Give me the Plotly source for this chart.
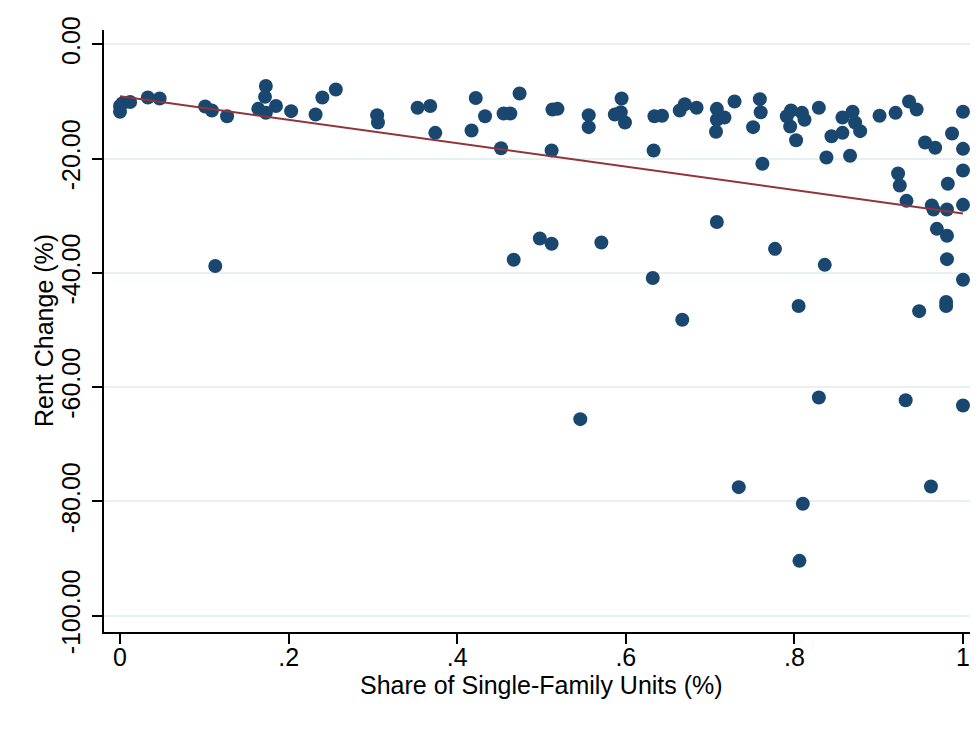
import plotly.graph_objects as go

share_sf = [0.000, 0.000, 0.003, 0.012, 0.033, 0.047, 0.101, 0.109, 0.127, 0.164,
            0.173, 0.172, 0.173, 0.185, 0.203, 0.232, 0.240, 0.256, 0.305, 0.306,
            0.353, 0.368, 0.374, 0.422, 0.417, 0.433, 0.452, 0.455, 0.463, 0.474,
            0.512, 0.513, 0.519, 0.556, 0.556, 0.587, 0.594, 0.595, 0.599, 0.633,
            0.634, 0.643, 0.664, 0.670, 0.684, 0.708, 0.708, 0.717, 0.707, 0.729,
            0.759, 0.760, 0.751, 0.762, 0.708, 0.777, 0.791, 0.796, 0.795, 0.809,
            0.812, 0.802, 0.829, 0.838, 0.844, 0.857, 0.857, 0.869, 0.872, 0.878,
            0.866, 0.901, 0.920, 0.936, 0.945, 1.000, 0.987, 0.955, 0.967, 1.000,
            1.000, 0.982, 0.923, 0.925, 0.933, 0.963, 0.965, 0.981, 1.000, 0.969,
            0.981, 0.981, 1.000, 0.980, 0.980, 0.948, 0.836, 0.805, 0.667, 0.632,
            0.113, 0.467, 0.498, 0.512, 0.571, 0.546, 0.829, 0.932, 1.000, 0.734,
            0.810, 0.962, 0.806]

rent_change = [-10.8, -11.8, -10.3, -10.1, -9.3, -9.5, -10.9, -11.6, -12.6, -11.3,
               -7.3, -9.2, -12.0, -10.8, -11.7, -12.3, -9.3, -7.9, -12.4, -13.7,
               -11.1, -10.8, -15.5, -9.4, -15.1, -12.6, -18.2, -12.1, -12.1, -8.6,
               -18.6, -11.4, -11.3, -12.4, -14.5, -12.3, -11.9, -9.5, -13.7, -18.6,
               -12.6, -12.5, -11.6, -10.5, -11.1, -11.3, -13.2, -12.8, -15.3, -10.0,
               -9.6, -11.9, -14.5, -20.9, -31.1, -35.8, -12.6, -11.6, -14.4, -12.0,
               -13.2, -16.8, -11.1, -19.8, -16.1, -15.5, -12.8, -11.8, -13.7, -15.2,
               -19.5, -12.5, -12.0, -10.0, -11.4, -11.8, -15.6, -17.2, -18.1, -18.3,
               -22.1, -24.4, -22.6, -24.7, -27.4, -28.2, -28.9, -28.9, -28.1, -32.3,
               -33.5, -37.6, -41.2, -45.1, -45.8, -46.7, -38.6, -45.8, -48.2, -40.9,
               -38.8, -37.7, -34.0, -34.9, -34.7, -65.6, -61.8, -62.3, -63.2, -77.5,
               -80.4, -77.4, -90.4]

fit_x = [0.0, 1.0]
fit_y = [-9.1, -29.6]

y_ticks = [0, -20, -40, -60, -80, -100]
y_tick_labels = ["0.00", "-20.00", "-40.00", "-60.00", "-80.00", "-100.00"]
x_ticks = [0, 0.2, 0.4, 0.6, 0.8, 1.0]
x_tick_labels = ["0", ".2", ".4", ".6", ".8", "1"]

FONT = "Arial, Liberation Sans, sans-serif"
FS = 25

fig = go.Figure()
fig.add_trace(go.Scatter(
    x=share_sf, y=rent_change, mode="markers",
    marker=dict(color="#1a476f", size=14, line=dict(width=0)),
    showlegend=False, cliponaxis=False))
fig.add_trace(go.Scatter(
    x=fit_x, y=fit_y, mode="lines",
    line=dict(color="#90353b", width=2),
    showlegend=False))

fig.update_layout(
    width=970, height=713,
    margin=dict(l=96, r=0, t=22, b=89),
    paper_bgcolor="white", plot_bgcolor="white",
    font=dict(family=FONT, size=FS, color="black"),
    xaxis=dict(
        range=[-0.019, 1.0178], tickmode="array", tickvals=x_ticks, ticktext=x_tick_labels,
        ticks="outside", ticklen=10, tickwidth=1.5, tickcolor="black",
        showline=True, linecolor="black", linewidth=1.5,
        showgrid=False, zeroline=False, automargin=False,
        tickfont=dict(size=FS), ticklabelstandoff=-8,
    ),
    yaxis=dict(
        range=[-102.85, 2.5], tickmode="array", tickvals=y_ticks, ticktext=y_tick_labels,
        ticks="outside", ticklen=10, tickwidth=1.5, tickcolor="black", tickangle=-90,
        showline=True, linecolor="black", linewidth=1.5,
        showgrid=True, gridcolor="#e8f0f2", gridwidth=2, zeroline=False, automargin=False,
        tickfont=dict(size=FS), ticklabelstandoff=2,
    ),
    annotations=[
        dict(text="Share of Single-Family Units (%)", xref="paper", yref="paper",
             x=0.5, y=-53 / 602, xanchor="center", yanchor="middle",
             showarrow=False, font=dict(size=FS)),
        dict(text="Rent Change (%)", xref="paper", yref="paper",
             x=-60 / 874, y=0.5, xanchor="center", yanchor="middle", textangle=-90,
             showarrow=False, font=dict(size=FS)),
    ],
)

fig.write_html("out.html")
